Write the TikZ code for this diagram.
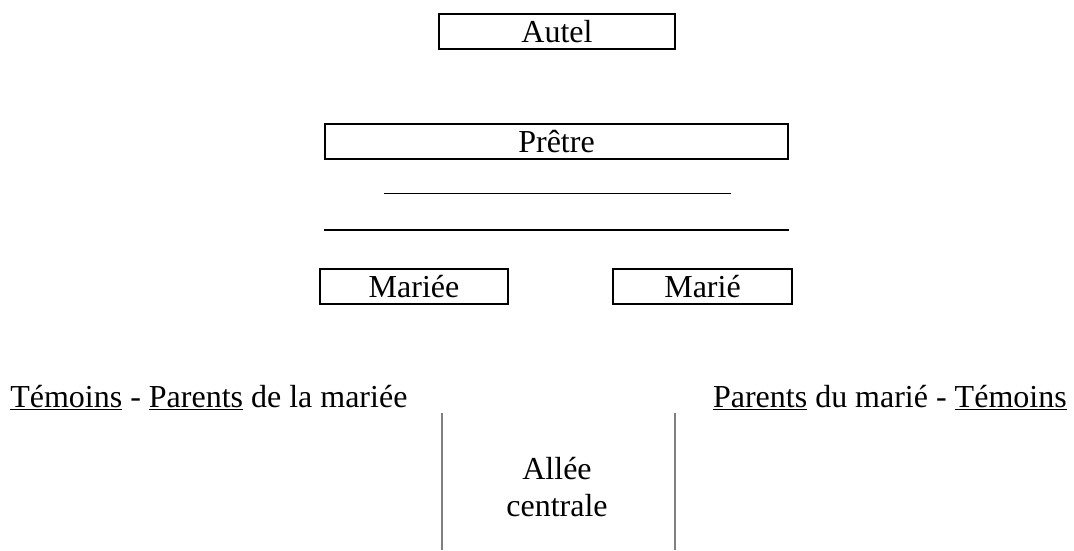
\documentclass[tikz,border=0pt]{standalone}
\usepackage{fontspec}
\setmainfont{Liberation Serif}

\begin{document}
\begin{tikzpicture}[x=0.75pt,y=-0.75pt,
  boite/.style={rectangle,draw,line width=1.5pt,inner sep=0pt,minimum height=26.25pt},
  texte/.style={inner sep=0pt},
  allee/.style={draw=gray,line width=0.9pt},
  every node/.style={font=\fontsize{24}{27.75}\selectfont}]
\useasboundingbox (0,0) rectangle (1074,550);

\node[boite,minimum width=177pt] at (557,31.5) (autel) {Autel};
\node[boite,minimum width=347.25pt] at (556.5,141.5) (pretre) {Prêtre};
\node[boite,minimum width=141pt] at (414,286.5) (mariee) {Mariée};
\node[boite,minimum width=134.25pt] at (702.5,286.5) (marie) {Marié};

\coordinate (a1) at (384,193);
\coordinate (a2) at (731,193);
\coordinate (b1) at (324,230);
\coordinate (b2) at (789,230);
\draw[line width=0.75pt] (a1) -- (a2);
\draw[line width=1.5pt] (b1) -- (b2);

\node[texte,anchor=base west] at (10,407) (gauche) {\underline{Témoins} - \underline{Parents} de la mariée};
\node[texte,anchor=base east] at (1067,407) (droite) {\underline{Parents} du marié - \underline{Témoins}};

\coordinate (g1) at (442,413);
\coordinate (g2) at (442,550);
\coordinate (d1) at (675,413);
\coordinate (d2) at (675,550);
\draw[allee] (g1) -- (g2);
\draw[allee] (d1) -- (d2);

\node[texte,align=center] at (557,487) (centre) {Allée\\centrale};
\end{tikzpicture}
\end{document}
